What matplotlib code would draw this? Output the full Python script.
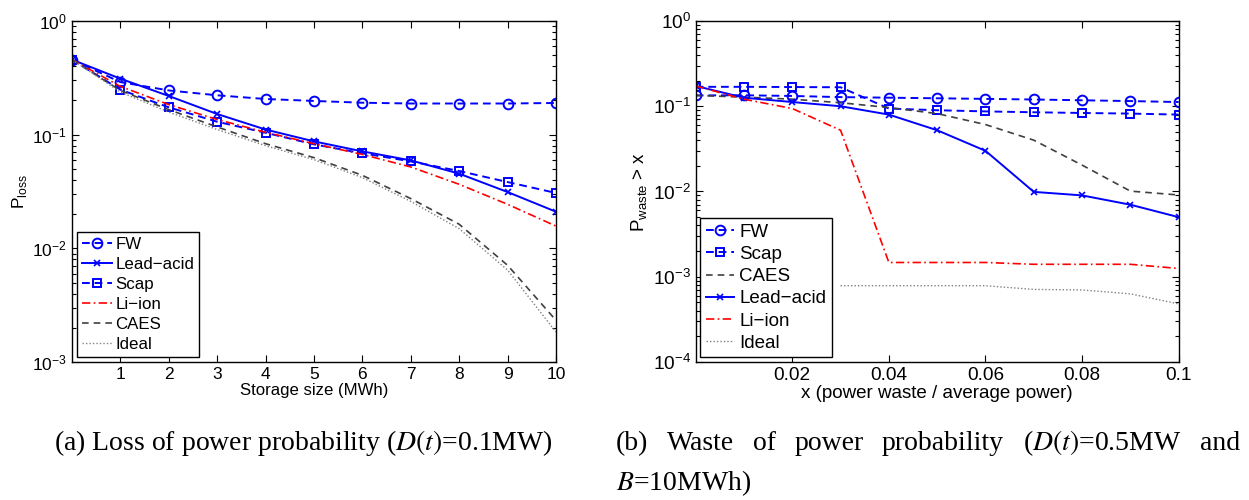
import numpy as np
import matplotlib
matplotlib.use('Agg')
import matplotlib.pyplot as plt
from matplotlib.ticker import LogLocator, NullFormatter

plt.rcParams['font.family'] = ['Liberation Sans', 'DejaVu Sans']
plt.rcParams['xtick.direction'] = 'in'
plt.rcParams['ytick.direction'] = 'in'

# %% data, (a) loss of power probability vs storage size
size_mwh = [0, 1, 2, 3, 4, 5, 6, 7, 8, 9, 10]
loss_fw = [0.457, 0.29, 0.245, 0.222, 0.206, 0.198, 0.191, 0.188, 0.188, 0.188, 0.19]
loss_lead = [0.457, 0.311, 0.219, 0.152, 0.111, 0.0873, 0.0713, 0.0594, 0.0454, 0.0313, 0.021]
loss_scap = [0.457, 0.249, 0.174, 0.13, 0.104, 0.0822, 0.0686, 0.0582, 0.0479, 0.0383, 0.0307]
loss_liion = [0.457, 0.266, 0.184, 0.136, 0.105, 0.0833, 0.067, 0.052, 0.0366, 0.0244, 0.0157]
loss_caes = [0.457, 0.245, 0.166, 0.117, 0.0833, 0.0628, 0.0439, 0.0274, 0.0163, 0.0071, 0.00233]
loss_ideal = [0.457, 0.237, 0.158, 0.111, 0.08, 0.0603, 0.0419, 0.0259, 0.0149, 0.00645, 0.00184]

# %% data, (b) waste of power probability vs x
x_waste = [0, 0.01, 0.02, 0.03, 0.04, 0.05, 0.06, 0.07, 0.08, 0.09, 0.1]
waste_fw = [0.134, 0.1345, 0.132, 0.128, 0.126, 0.124, 0.122, 0.12, 0.1175, 0.115, 0.112]
waste_scap = [0.169, 0.169, 0.168, 0.167, 0.094, 0.0898, 0.087, 0.085, 0.0834, 0.082, 0.0798]
waste_caes = [0.134, 0.128, 0.121, 0.11, 0.0965, 0.082, 0.061, 0.04, 0.0204, 0.0101, 0.0091]
waste_lead = [0.173, 0.126, 0.112, 0.1, 0.0798, 0.0523, 0.03, 0.0099, 0.009, 0.007, 0.005]
waste_liion = [0.173, 0.121, 0.094, 0.0523, 0.00147, 0.00147, 0.00147, 0.0014, 0.0014, 0.0014, 0.00125]
waste_ideal = [np.nan, np.nan, np.nan, 0.000785, 0.000785, 0.000785, 0.000785, 0.00071, 0.0007, 0.00063, 0.00048]

blue = (0, 0, 1)
red = (1, 0, 0)
styles = {
    'FW': dict(color=blue, ls='--', dashes=(4, 2.5), lw=1.4, marker='o', ms=7, mfc='none', mew=1.4),
    'Lead\u2212acid': dict(color=blue, ls='-', lw=1.4, marker='x', ms=4, mew=1.2),
    'Scap': dict(color=blue, ls='--', dashes=(4, 2.5), lw=1.4, marker='s', ms=6, mfc='none', mew=1.4),
    'Li\u2212ion': dict(color=red, ls='-.', dashes=(5, 2, 1, 2), lw=1.2),
    'CAES': dict(color='#404040', ls='--', dashes=(4, 3), lw=1.2),
    'Ideal': dict(color='#808080', ls=':', dashes=(1, 1.5), lw=1.0),
}


def style_axes(ax, fs):
    ax.set_yscale('log')
    ax.tick_params(which='both', top=True, right=True, labelsize=fs, width=0.8)
    ax.tick_params(which='major', length=5)
    ax.tick_params(which='minor', length=3)
    ax.yaxis.set_minor_locator(LogLocator(base=10, subs=np.arange(2, 10)))
    ax.yaxis.set_minor_formatter(NullFormatter())
    for sp in ax.spines.values():
        sp.set_linewidth(1.0)


fig = plt.figure(figsize=(12.49, 5.0), dpi=100)

# (a)
ax1 = fig.add_axes([0.0576, 0.276, 0.3875, 0.682])
series_a = [('FW', loss_fw), ('Lead\u2212acid', loss_lead), ('Scap', loss_scap),
            ('Li\u2212ion', loss_liion), ('CAES', loss_caes), ('Ideal', loss_ideal)]
for name, vals in series_a:
    ax1.plot(size_mwh, vals, label=name, **styles[name])
style_axes(ax1, 12.5)
ax1.set_xlim(0, 10)
ax1.set_ylim(1e-3, 1)
ax1.set_xticks(size_mwh[1:])
ax1.set_xlabel('Storage size (MWh)', fontsize=12.1, labelpad=1)
ax1.set_ylabel('P$_{\\mathregular{loss}}$', fontsize=12.5, labelpad=2)
ax1.legend(loc='lower left', fontsize=12.2, frameon=True, fancybox=False,
           edgecolor='black', framealpha=1, borderaxespad=0.3, handlelength=1.75,
           handletextpad=0.2, labelspacing=0.29, borderpad=0.3).get_frame().set_linewidth(1.0)

# (b)
ax2 = fig.add_axes([0.557, 0.276, 0.3867, 0.682])
series_b = [('FW', waste_fw), ('Scap', waste_scap), ('CAES', waste_caes),
            ('Lead\u2212acid', waste_lead), ('Li\u2212ion', waste_liion), ('Ideal', waste_ideal)]
for name, vals in series_b:
    ax2.plot(x_waste, vals, label=name, **styles[name])
style_axes(ax2, 13.7)
ax2.set_xlim(0, 0.1)
ax2.set_ylim(1e-4, 1)
ax2.set_xticks(x_waste[2::2])
ax2.set_xticklabels(['0.02', '0.04', '0.06', '0.08', '0.1'])
ax2.set_xlabel('x (power waste / average power)', fontsize=13.5, labelpad=1)
ax2.set_ylabel('P$_{\\mathregular{waste}}$ > x', fontsize=13.5, labelpad=2)
ax2.legend(loc='lower left', fontsize=13.5, frameon=True, fancybox=False,
           edgecolor='black', framealpha=1, borderaxespad=0.25, handlelength=1.5,
           handletextpad=0.27, labelspacing=0.27, borderpad=0.3).get_frame().set_linewidth(1.0)

# captions
W = 1249.0
cap = dict(fontsize=20, family='Liberation Serif', math_fontfamily='stix')
fig.text(303 / W, 1 - 450 / 500, '(a) Loss of power probability ($D(t)$=0.1MW)',
         ha='center', va='baseline', **cap)

# justified first line of caption (b)
words = ['(b)', 'Waste', 'of', 'power', 'probability', '($D(t)$=0.5MW', 'and']
texts = [fig.text(0, 1 - 450 / 500, w, ha='left', va='baseline', **cap) for w in words]
fig.canvas.draw()
r = fig.canvas.get_renderer()
widths = [t.get_window_extent(r).width for t in texts]
x0, x1 = 616.0, 1240.0
gap = (x1 - x0 - sum(widths)) / (len(words) - 1)
xpos = x0
for t, w in zip(texts, widths):
    t.set_x(xpos / W)
    xpos += w + gap
fig.text(x0 / W, 1 - 490 / 500, '$B$=10MWh)', ha='left', va='baseline', **cap)

fig.savefig('out.png', dpi=100)
